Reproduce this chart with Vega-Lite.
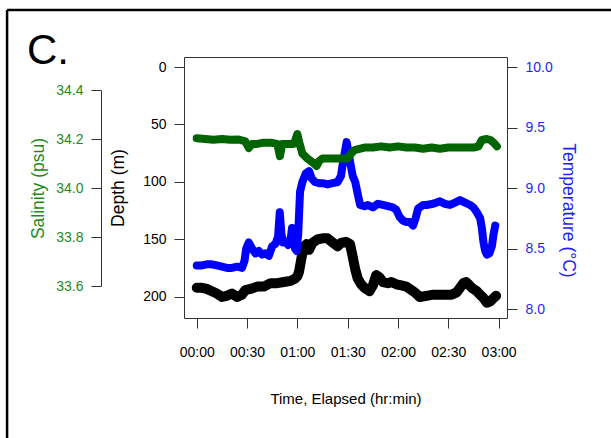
{
  "$schema": "https://vega.github.io/schema/vega-lite/v6.json",
  "width": 323,
  "height": 261,
  "autosize": {"type": "none"},
  "padding": {"left": 184, "top": 57, "right": 104, "bottom": 120},
  "background": "white",
  "title": {
    "text": "C.",
    "anchor": "start",
    "frame": "group",
    "font": "Liberation Sans",
    "fontSize": 42,
    "fontWeight": "normal",
    "color": "black",
    "baseline": "alphabetic",
    "offset": 0,
    "dx": -157,
    "dy": 97
  },
  "datasets": {
    "depth": [
      {"t": 0, "depth": 192}, {"t": 3, "depth": 192}, {"t": 6, "depth": 193}, {"t": 9, "depth": 195},
      {"t": 12, "depth": 197}, {"t": 15, "depth": 200}, {"t": 18, "depth": 199}, {"t": 21, "depth": 197},
      {"t": 24, "depth": 200}, {"t": 27, "depth": 198}, {"t": 29, "depth": 194}, {"t": 32, "depth": 193},
      {"t": 36, "depth": 191}, {"t": 40, "depth": 191}, {"t": 44, "depth": 188}, {"t": 48, "depth": 188},
      {"t": 52, "depth": 187}, {"t": 56, "depth": 186}, {"t": 58.6, "depth": 184}, {"t": 60, "depth": 182},
      {"t": 61, "depth": 178}, {"t": 62.6, "depth": 165}, {"t": 64, "depth": 156}, {"t": 65.5, "depth": 154},
      {"t": 67, "depth": 159}, {"t": 69, "depth": 153}, {"t": 72, "depth": 150}, {"t": 75, "depth": 149},
      {"t": 78, "depth": 149}, {"t": 80.5, "depth": 152}, {"t": 84, "depth": 156}, {"t": 86, "depth": 153},
      {"t": 89, "depth": 152}, {"t": 91.4, "depth": 154}, {"t": 93, "depth": 165}, {"t": 94.5, "depth": 176},
      {"t": 96, "depth": 184}, {"t": 98, "depth": 189}, {"t": 100, "depth": 192}, {"t": 103, "depth": 195},
      {"t": 105, "depth": 190}, {"t": 107, "depth": 181}, {"t": 109, "depth": 183}, {"t": 111, "depth": 187},
      {"t": 114, "depth": 188}, {"t": 116, "depth": 187}, {"t": 119, "depth": 189}, {"t": 122, "depth": 190},
      {"t": 125, "depth": 191}, {"t": 127, "depth": 193}, {"t": 130, "depth": 196}, {"t": 133, "depth": 200},
      {"t": 137, "depth": 199}, {"t": 141, "depth": 198}, {"t": 145, "depth": 198}, {"t": 149, "depth": 198},
      {"t": 152, "depth": 198}, {"t": 155, "depth": 196}, {"t": 157, "depth": 192}, {"t": 159, "depth": 188},
      {"t": 160.5, "depth": 187}, {"t": 162, "depth": 189}, {"t": 164, "depth": 192}, {"t": 167, "depth": 195},
      {"t": 169, "depth": 198}, {"t": 171, "depth": 201}, {"t": 173, "depth": 205}, {"t": 175, "depth": 204},
      {"t": 177, "depth": 201}, {"t": 178.5, "depth": 199}
    ],
    "temp": [
      {"t": 0, "temp": 8.36}, {"t": 3, "temp": 8.36}, {"t": 6, "temp": 8.37}, {"t": 9, "temp": 8.37},
      {"t": 12, "temp": 8.36}, {"t": 15, "temp": 8.35}, {"t": 18, "temp": 8.34}, {"t": 21, "temp": 8.34},
      {"t": 24, "temp": 8.35}, {"t": 27, "temp": 8.34}, {"t": 28.5, "temp": 8.4}, {"t": 29.5, "temp": 8.5},
      {"t": 31, "temp": 8.55}, {"t": 33, "temp": 8.5}, {"t": 35, "temp": 8.46}, {"t": 37, "temp": 8.48},
      {"t": 39, "temp": 8.45}, {"t": 41, "temp": 8.46}, {"t": 43, "temp": 8.44}, {"t": 45, "temp": 8.52},
      {"t": 47, "temp": 8.54}, {"t": 48.5, "temp": 8.6}, {"t": 49.5, "temp": 8.8}, {"t": 50.5, "temp": 8.62},
      {"t": 51.5, "temp": 8.55}, {"t": 53, "temp": 8.56}, {"t": 54.5, "temp": 8.53}, {"t": 56, "temp": 8.58},
      {"t": 56.8, "temp": 8.67}, {"t": 57.8, "temp": 8.58}, {"t": 58.6, "temp": 8.5}, {"t": 59.5, "temp": 8.48},
      {"t": 60.5, "temp": 8.62}, {"t": 61.6, "temp": 8.97}, {"t": 63, "temp": 9.05}, {"t": 65, "temp": 9.12},
      {"t": 67, "temp": 9.14}, {"t": 68.5, "temp": 9.08}, {"t": 70.5, "temp": 9.05}, {"t": 73, "temp": 9.04},
      {"t": 75, "temp": 9.04}, {"t": 78, "temp": 9.03}, {"t": 81, "temp": 9.04}, {"t": 84, "temp": 9.05},
      {"t": 86, "temp": 9.1}, {"t": 87.3, "temp": 9.22}, {"t": 89.4, "temp": 9.38}, {"t": 91.4, "temp": 9.22},
      {"t": 93, "temp": 9.1}, {"t": 94.5, "temp": 9.05}, {"t": 96, "temp": 8.95}, {"t": 97.4, "temp": 8.86},
      {"t": 100, "temp": 8.85}, {"t": 102, "temp": 8.86}, {"t": 105, "temp": 8.84}, {"t": 108, "temp": 8.87},
      {"t": 111, "temp": 8.86}, {"t": 114, "temp": 8.85}, {"t": 117, "temp": 8.84}, {"t": 119, "temp": 8.82},
      {"t": 121, "temp": 8.76}, {"t": 123, "temp": 8.73}, {"t": 125, "temp": 8.72}, {"t": 127, "temp": 8.72},
      {"t": 129, "temp": 8.69}, {"t": 130.5, "temp": 8.75}, {"t": 132, "temp": 8.83}, {"t": 135, "temp": 8.86},
      {"t": 137, "temp": 8.86}, {"t": 141, "temp": 8.87}, {"t": 145, "temp": 8.89}, {"t": 148, "temp": 8.87},
      {"t": 151, "temp": 8.86}, {"t": 154, "temp": 8.88}, {"t": 157, "temp": 8.9}, {"t": 160, "temp": 8.88},
      {"t": 163, "temp": 8.86}, {"t": 165, "temp": 8.84}, {"t": 167, "temp": 8.8}, {"t": 169, "temp": 8.75},
      {"t": 170, "temp": 8.67}, {"t": 171, "temp": 8.55}, {"t": 172, "temp": 8.48}, {"t": 173, "temp": 8.45},
      {"t": 174.5, "temp": 8.46}, {"t": 176, "temp": 8.52}, {"t": 177, "temp": 8.62}, {"t": 178, "temp": 8.69}
    ],
    "sal": [
      {"t": 0, "sal": 34.203}, {"t": 5, "sal": 34.2}, {"t": 10, "sal": 34.197}, {"t": 15, "sal": 34.2},
      {"t": 20, "sal": 34.197}, {"t": 25, "sal": 34.198}, {"t": 29, "sal": 34.19}, {"t": 31, "sal": 34.163},
      {"t": 33, "sal": 34.18}, {"t": 36, "sal": 34.18}, {"t": 40, "sal": 34.185}, {"t": 44, "sal": 34.185},
      {"t": 48, "sal": 34.18}, {"t": 49.6, "sal": 34.13}, {"t": 51, "sal": 34.18}, {"t": 55, "sal": 34.18},
      {"t": 58, "sal": 34.18}, {"t": 60, "sal": 34.22}, {"t": 61, "sal": 34.19}, {"t": 63, "sal": 34.14},
      {"t": 66, "sal": 34.12}, {"t": 69, "sal": 34.105}, {"t": 71.5, "sal": 34.09}, {"t": 73, "sal": 34.11},
      {"t": 75, "sal": 34.12}, {"t": 78, "sal": 34.12}, {"t": 81, "sal": 34.12}, {"t": 84, "sal": 34.12},
      {"t": 87, "sal": 34.12}, {"t": 90, "sal": 34.12}, {"t": 92, "sal": 34.14}, {"t": 94, "sal": 34.155},
      {"t": 97, "sal": 34.16}, {"t": 100, "sal": 34.165}, {"t": 105, "sal": 34.165}, {"t": 110, "sal": 34.17},
      {"t": 115, "sal": 34.165}, {"t": 120, "sal": 34.17}, {"t": 125, "sal": 34.165}, {"t": 130, "sal": 34.165},
      {"t": 135, "sal": 34.16}, {"t": 140, "sal": 34.165}, {"t": 145, "sal": 34.16}, {"t": 150, "sal": 34.165},
      {"t": 155, "sal": 34.165}, {"t": 160, "sal": 34.165}, {"t": 165, "sal": 34.165}, {"t": 168, "sal": 34.17},
      {"t": 170, "sal": 34.196}, {"t": 173, "sal": 34.2}, {"t": 175, "sal": 34.196}, {"t": 177, "sal": 34.185},
      {"t": 179, "sal": 34.17}
    ]
  },
  "layer": [
    {
      "data": {"values": [{}]},
      "mark": {"type": "rule", "color": "black", "strokeWidth": 2.5, "clip": false},
      "encoding": {
        "x": {"datum": -113.1, "type": "quantitative", "title": "Time, Elapsed (hr:min)"},
        "x2": {"datum": 300},
        "y": {"datum": -49.6, "type": "quantitative", "axis": null,
              "scale": {"domain": [-8.7, 218.3], "reverse": true, "nice": false, "zero": false}}
      }
    },
    {
      "data": {"values": [{}]},
      "mark": {"type": "rule", "color": "black", "strokeWidth": 2.5, "clip": false},
      "encoding": {
        "x": {"datum": -113.1, "type": "quantitative", "title": "Time, Elapsed (hr:min)"},
        "y": {"datum": -49.6, "type": "quantitative", "axis": null,
              "scale": {"domain": [-8.7, 218.3], "reverse": true, "nice": false, "zero": false}},
        "y2": {"datum": 342}
      }
    },
    {
      "data": {"name": "depth"},
      "mark": {"type": "line", "color": "black", "strokeWidth": 10, "strokeCap": "round", "strokeJoin": "round"},
      "encoding": {
        "x": {
          "field": "t",
          "type": "quantitative",
          "title": "Time, Elapsed (hr:min)",
          "scale": {"domain": [-7.6, 185], "nice": false, "zero": false},
          "axis": {
            "values": [0, 30, 60, 90, 120, 150, 180],
            "labelExpr": "format(floor(datum.value / 60), '02d') + ':' + format(datum.value % 60, '02d')",
            "domain": false,
            "labelPadding": 17,
            "titlePadding": 32,
            "titleFontSize": 15
          }
        },
        "y": {
          "field": "depth",
          "type": "quantitative",
          "title": "Depth (m)",
          "scale": {"domain": [-8.7, 218.3], "reverse": true, "nice": false, "zero": false},
          "axis": {
            "orient": "left",
            "values": [0, 50, 100, 150, 200],
            "format": "d",
            "domain": false,
            "titlePadding": 15,
            "titleFontSize": 17.5,
            "titleColor": "black"
          }
        }
      }
    },
    {
      "data": {"name": "temp"},
      "mark": {"type": "line", "color": "#0000ff", "strokeWidth": 8, "strokeCap": "round", "strokeJoin": "round"},
      "encoding": {
        "x": {"field": "t", "type": "quantitative", "title": "Time, Elapsed (hr:min)"},
        "y": {
          "field": "temp",
          "type": "quantitative",
          "title": "Temperature (°C)",
          "scale": {"domain": [7.926, 10.083], "nice": false, "zero": false},
          "axis": {
            "orient": "right",
            "values": [8, 8.5, 9, 9.5, 10],
            "format": ".1f",
            "domain": false,
            "labelColor": "#1f1fff",
            "titleColor": "#1f1fff",
            "titlePadding": 6,
            "titleY": 153,
            "titleFontSize": 17.5
          }
        }
      }
    },
    {
      "data": {"name": "sal"},
      "mark": {"type": "line", "color": "#006400", "strokeWidth": 8, "strokeCap": "round", "strokeJoin": "round"},
      "encoding": {
        "x": {"field": "t", "type": "quantitative", "title": "Time, Elapsed (hr:min)"},
        "y": {
          "field": "sal",
          "type": "quantitative",
          "title": "Salinity (psu)",
          "scale": {"domain": [33.6, 34.4], "range": [229, 33], "nice": false, "zero": false},
          "axis": {
            "orient": "left",
            "offset": 83,
            "values": [33.6, 33.8, 34.0, 34.2, 34.4],
            "format": ".1f",
            "domain": true,
            "labelColor": "#1e8a1e",
            "titleColor": "#1e8a1e",
            "titlePadding": 8,
            "titleFontSize": 17.5
          }
        }
      }
    }
  ],
  "resolve": {"scale": {"y": "independent"}, "axis": {"y": "independent"}},
  "config": {
    "view": {"stroke": "#333333", "strokeWidth": 1},
    "axis": {
      "grid": false,
      "tickSize": 10,
      "tickColor": "#333333",
      "tickWidth": 1,
      "domainColor": "#333333",
      "labelFont": "Liberation Sans",
      "labelFontSize": 14,
      "labelColor": "black",
      "labelPadding": 8,
      "titleFont": "Liberation Sans",
      "titleFontWeight": "normal",
      "titleColor": "black"
    }
  }
}
